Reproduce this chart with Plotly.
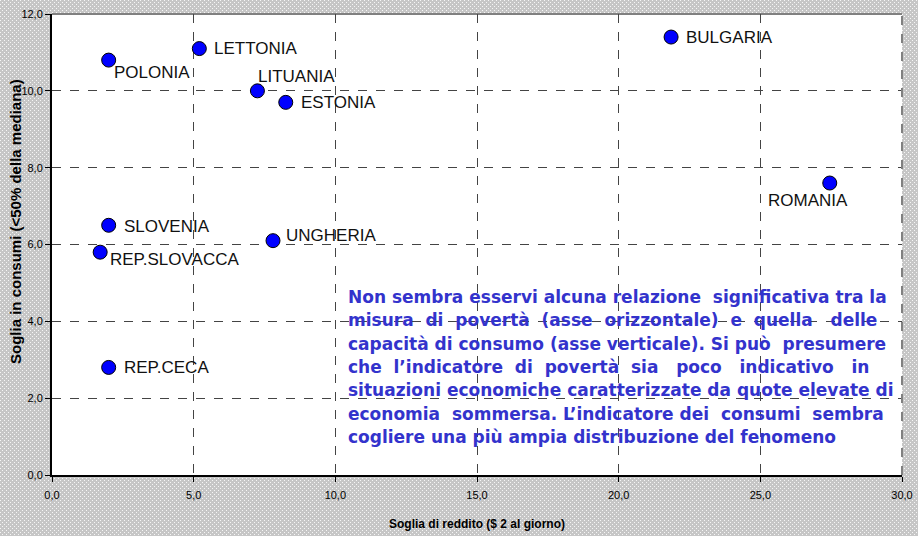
import base64
import plotly.graph_objects as go

# ---- data ----
countries = ["POLONIA", "LETTONIA", "LITUANIA", "ESTONIA", "BULGARIA",
             "ROMANIA", "SLOVENIA", "UNGHERIA", "REP.SLOVACCA", "REP.CECA"]
reddito = [2.0, 5.2, 7.25, 8.25, 21.85, 27.45, 2.0, 7.8, 1.7, 2.0]
consumi = [10.8, 11.1, 10.0, 9.7, 11.4, 7.6, 6.5, 6.1, 5.8, 2.8]
x_ticks = [0, 5, 10, 15, 20, 25, 30]
y_ticks = [0, 2, 4, 6, 8, 10, 12]
x_title = "Soglia di reddito ($ 2 al giorno)"
y_title = "Soglia in consumi (<50% della mediana)"
note_lines = [
    "Non sembra esservi alcuna relazione  significativa tra la",
    "misura  di  povertà  (asse  orizzontale)  e  quella   delle",
    "capacità di consumo (asse verticale). Si può  presumere",
    "che  l’indicatore  di  povertà  sia   poco   indicativo   in",
    "situazioni economiche caratterizzate da quote elevate di",
    "economia  sommersa. L’indicatore dei  consumi  sembra",
    "cogliere una più ampia distribuzione del fenomeno",
]

# label offsets (pixels): (xshift, yshift)
label_style = {
    "POLONIA": (3, -12),
    "LETTONIA": (13, 0),
    "LITUANIA": (-1, 14),
    "ESTONIA": (13, 0),
    "BULGARIA": (13, 0),
    "ROMANIA": (-64, -17),
    "SLOVENIA": (13, -1),
    "UNGHERIA": (11, 5),
    "REP.SLOVACCA": (8, -7),
    "REP.CECA": (13, 0),
}

W, H = 918, 536
ML, MR, MT, MB = 52, 16, 14, 61
PW, PH = W - ML - MR, H - MT - MB


def px_x(p):
    return (p - ML) / PW


def px_y(p):
    return 1 - (p - MT) / PH


# patterned page background (shows through transparent paper)
tile = ('<svg xmlns="http://www.w3.org/2000/svg" width="4" height="4">'
        '<rect width="4" height="4" fill="#c6c6c6"/>'
        '<rect x="0" y="0" width="1" height="1" fill="#f6f6f6"/>'
        '<rect x="2" y="2" width="1" height="1" fill="#f6f6f6"/>'
        '</svg>')
tile_src = "data:image/svg+xml;base64," + base64.b64encode(tile.encode()).decode()
post_js = ("document.body.style.margin='0';"
           "document.body.style.backgroundColor='#cfcfcf';"
           f"document.body.style.backgroundImage='url({tile_src})';")

fig = go.Figure()
fig.add_trace(go.Scatter(
    x=reddito, y=consumi, mode="markers",
    marker=dict(size=14, color="#0000ff", line=dict(color="#000000", width=1)),
    hoverinfo="text", text=countries, cliponaxis=False,
))

annotations = []
for name, xv, yv in zip(countries, reddito, consumi):
    dx, dy = label_style[name]
    annotations.append(dict(
        x=xv, y=yv, xref="x", yref="y", text=name, showarrow=False,
        xanchor="left", yanchor="middle", xshift=dx, yshift=dy,
        font=dict(family="Liberation Sans, Arial", size=17, color="#111111"),
    ))

for i, line in enumerate(note_lines):
    annotations.append(dict(
        x=px_x(346), y=px_y(297 + i * 23.3), xref="paper", yref="paper",
        xanchor="left", yanchor="middle", align="left", showarrow=False,
        text="<b>" + line.replace("  ", " \u00a0") + "</b>",
        font=dict(family="DejaVu Sans", size=17, color="#3333cc"),
    ))

# axis titles
annotations.append(dict(
    x=px_x(477), y=px_y(524), xref="paper", yref="paper", showarrow=False,
    xanchor="center", yanchor="middle", text=f"<b>{x_title}</b>",
    font=dict(family="Liberation Sans, Arial", size=12, color="#000000"),
))
annotations.append(dict(
    x=px_x(15), y=px_y(222), xref="paper", yref="paper", showarrow=False,
    xanchor="center", yanchor="middle", textangle=-90, text=f"<b>{y_title}</b>",
    font=dict(family="Liberation Sans, Arial", size=15, color="#000000"),
))

fig.update_layout(
    width=W, height=H,
    margin=dict(l=ML, r=MR, t=MT, b=MB, autoexpand=False),
    paper_bgcolor="rgba(0,0,0,0)", plot_bgcolor="#ffffff",
    separators=",.",
    showlegend=False,
    annotations=annotations,
    shapes=[
        dict(type="line", xref="paper", yref="paper", x0=0, x1=1, y0=1, y1=1,
             line=dict(color="#808080", width=2), layer="below"),
        dict(type="line", xref="paper", yref="paper", x0=1, x1=1, y0=0, y1=1,
             line=dict(color="#808080", width=2, dash="dash"), layer="above"),
    ],
    font=dict(family="Liberation Sans, Arial", color="#000000"),
)
fig.update_xaxes(
    range=[0, 30], tickvals=x_ticks, tickformat=".1f", automargin=False,
    showgrid=True, gridcolor="#444444", griddash="dash", gridwidth=1,
    showline=True, linecolor="#000000", linewidth=2,
    ticks="outside", ticklen=5, tickcolor="#000000", ticklabelstandoff=4,
    tickfont=dict(size=11, color="#000000"), zeroline=False,
)
fig.update_yaxes(
    range=[0, 12], tickvals=y_ticks, tickformat=".1f", automargin=False,
    showgrid=True, gridcolor="#444444", griddash="dash", gridwidth=1,
    showline=True, linecolor="#000000", linewidth=2,
    ticks="outside", ticklen=5, tickcolor="#000000",
    tickfont=dict(size=11, color="#000000"), zeroline=False,
)

fig.write_html("out.html", post_script=post_js,
               config={"displayModeBar": False})
